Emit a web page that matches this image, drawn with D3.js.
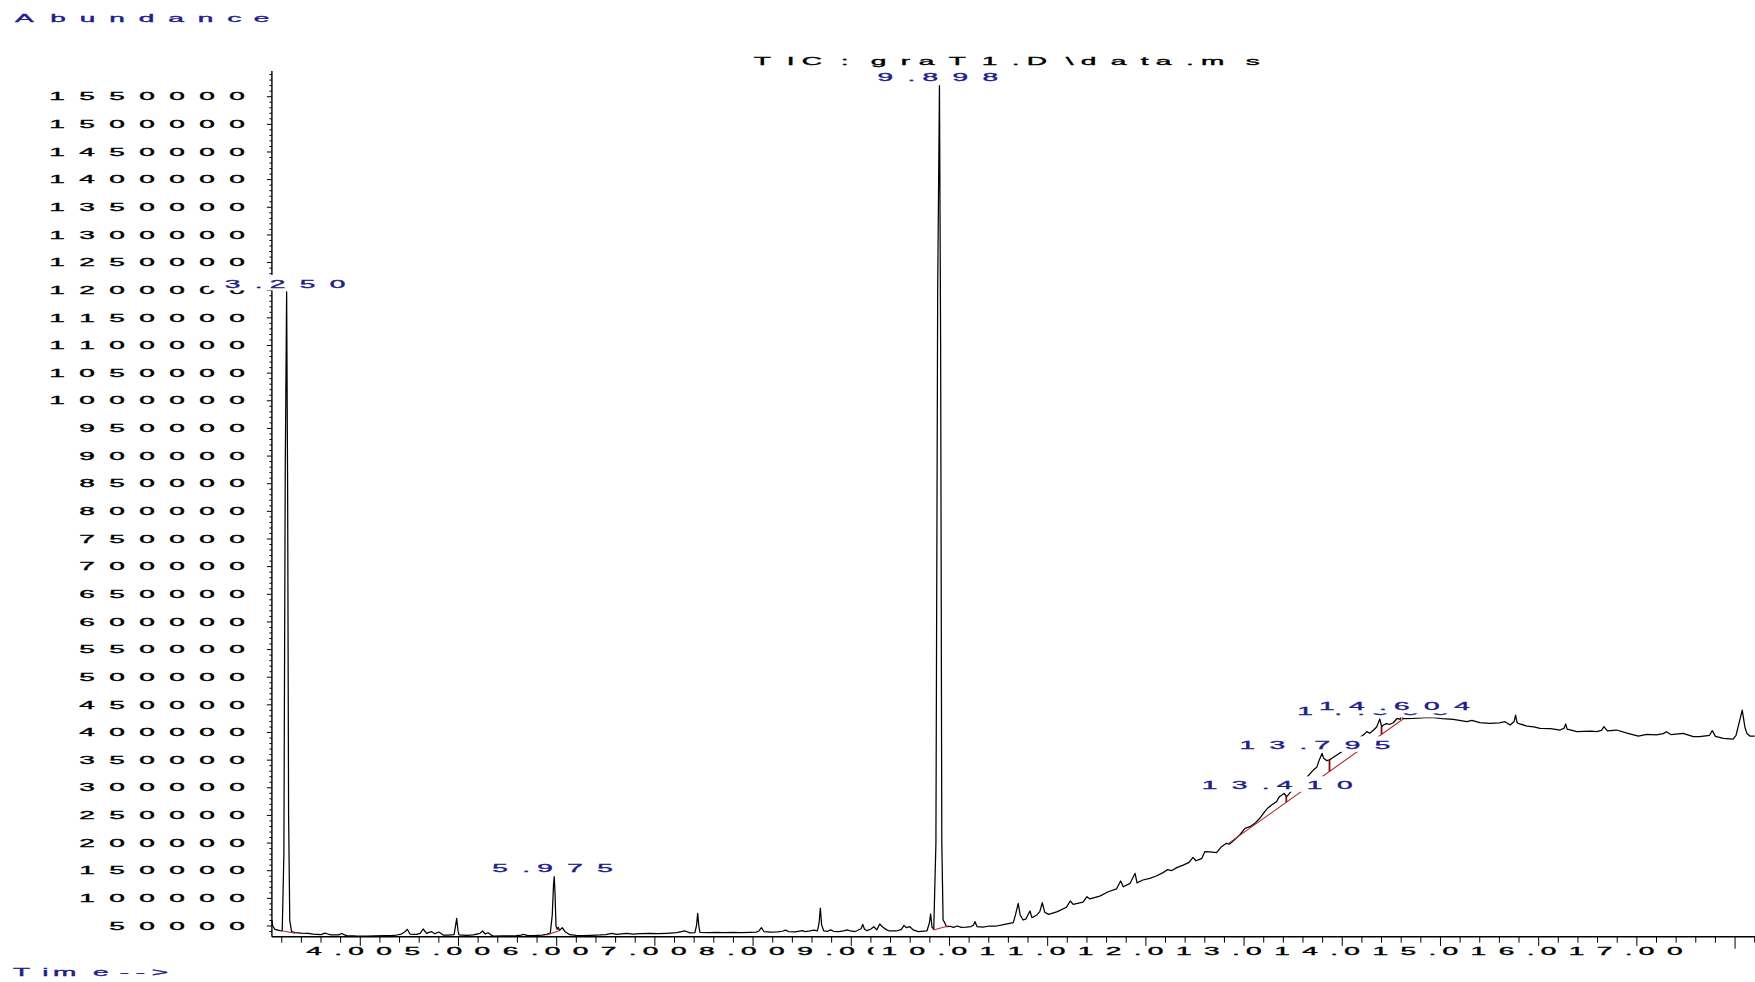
<!DOCTYPE html>
<html>
<head>
<meta charset="utf-8">
<script src="https://cdn.jsdelivr.net/npm/d3@7/dist/d3.min.js"></script>
<style>
  html, body { margin: 0; padding: 0; background: #fff; }
  svg { display: block; font-family: "Liberation Sans", Arial, sans-serif; }
</style>
</head>
<body>
<svg id="chart" width="1755" height="982"></svg>
<script>
// Total ion chromatogram: [retention time (min), abundance]
const ticTrace = [
  [3.100, 61000], [3.108, 50000], [3.131, 44000], [3.182, 41500], [3.205, 41000],
  [3.222, 180000], [3.236, 880000], [3.250, 1197000], [3.260, 850000], [3.270, 250000],
  [3.282, 60000], [3.300, 40000], [3.335, 37900], [3.400, 37000], [3.470, 36700],
  [3.520, 35500], [3.556, 35000], [3.600, 34500], [3.640, 37000], [3.660, 36000],
  [3.700, 33900], [3.780, 34000], [3.810, 36500], [3.840, 34000], [3.860, 32500],
  [3.950, 32000], [4.065, 31900], [4.150, 32200], [4.250, 32800], [4.330, 33200],
  [4.370, 33700], [4.420, 35500], [4.455, 39700], [4.479, 44000], [4.506, 35500],
  [4.574, 35000], [4.610, 36500], [4.640, 44600], [4.676, 36800], [4.700, 38500],
  [4.727, 39700], [4.760, 36000], [4.800, 39100], [4.845, 33700], [4.900, 33500],
  [4.955, 34500], [4.968, 48000], [4.982, 64000], [4.995, 42000], [5.005, 34000],
  [5.083, 33200], [5.150, 34000], [5.219, 36700], [5.246, 41000], [5.273, 35500],
  [5.300, 37900], [5.330, 34000], [5.354, 31900], [5.450, 32200], [5.590, 32500],
  [5.640, 33500], [5.660, 35000], [5.700, 33000], [5.760, 32800], [5.850, 33500],
  [5.898, 35000], [5.935, 37000], [5.955, 70000], [5.968, 125000], [5.975, 139200],
  [5.983, 110000], [5.993, 50000], [6.005, 44000], [6.016, 47600], [6.030, 42000],
  [6.057, 47000], [6.085, 39700], [6.135, 34300], [6.200, 33000], [6.270, 32500],
  [6.350, 33200], [6.440, 33800], [6.500, 34500], [6.560, 36700], [6.610, 35000],
  [6.713, 36700], [6.780, 35500], [6.850, 36000], [6.950, 36700], [7.030, 36000],
  [7.120, 36800], [7.222, 37900], [7.306, 41000], [7.357, 37500], [7.408, 38000],
  [7.425, 52000], [7.436, 72900], [7.448, 50000], [7.459, 38500], [7.550, 38000],
  [7.630, 38600], [7.700, 38000], [7.800, 38600], [7.880, 38200], [7.970, 38600],
  [8.030, 39000], [8.060, 41000], [8.085, 47000], [8.110, 40000], [8.180, 39000],
  [8.250, 39500], [8.300, 40500], [8.330, 42500], [8.360, 40000], [8.430, 39500],
  [8.500, 41500], [8.530, 40000], [8.580, 41000], [8.620, 42500], [8.655, 41000],
  [8.672, 55000], [8.685, 82500], [8.698, 52000], [8.720, 41000], [8.760, 40500],
  [8.790, 43000], [8.820, 40500], [8.870, 40000], [8.920, 41000], [8.960, 43000],
  [8.990, 41000], [9.040, 40000], [9.100, 45000], [9.116, 53000], [9.135, 44000],
  [9.160, 41500], [9.200, 44500], [9.230, 48700], [9.260, 43000], [9.290, 53600],
  [9.320, 48000], [9.360, 43000], [9.390, 41000], [9.460, 41000], [9.510, 44000],
  [9.537, 51200], [9.560, 47000], [9.597, 48700], [9.630, 43000], [9.682, 39700],
  [9.770, 41000], [9.795, 55000], [9.808, 71700], [9.822, 48000], [9.840, 44000],
  [9.862, 200000], [9.880, 1200000], [9.898, 1570000], [9.910, 1100000], [9.922, 200000],
  [9.935, 60800], [9.945, 58000], [9.970, 48700], [10.005, 49500], [10.040, 47500],
  [10.080, 50000], [10.120, 47500], [10.170, 48000], [10.220, 49000], [10.245, 52000],
  [10.260, 57800], [10.280, 49000], [10.340, 48000], [10.410, 50000], [10.480, 50000],
  [10.550, 52500], [10.650, 56000], [10.672, 70000], [10.700, 91000], [10.720, 70000],
  [10.750, 60800], [10.780, 63000], [10.805, 72000], [10.820, 77100], [10.840, 65000],
  [10.890, 70000], [10.920, 76000], [10.945, 92200], [10.970, 75000], [11.010, 71100],
  [11.100, 76000], [11.190, 83800], [11.230, 95200], [11.260, 89000], [11.360, 93000],
  [11.400, 103000], [11.430, 99000], [11.530, 104000], [11.617, 112000], [11.700, 117000],
  [11.743, 131400], [11.770, 121000], [11.840, 127200], [11.890, 145300], [11.910, 128000],
  [11.970, 133200], [12.040, 136300], [12.100, 140000], [12.170, 146000], [12.220, 152000],
  [12.260, 150000], [12.320, 156000], [12.380, 160000], [12.440, 165000], [12.480, 174000],
  [12.510, 168000], [12.540, 170000], [12.570, 172400], [12.600, 184400], [12.650, 184000],
  [12.720, 182600], [12.770, 193400], [12.820, 199600], [12.850, 198000], [12.900, 205500],
  [12.955, 214600], [13.010, 226700], [13.060, 229600], [13.110, 235700], [13.160, 244800],
  [13.210, 256800], [13.245, 264000], [13.280, 268800], [13.330, 274800], [13.360, 283900],
  [13.410, 290000], [13.430, 283900], [13.450, 287000], [13.500, 298000], [13.570, 308000],
  [13.640, 319000], [13.705, 332000], [13.740, 337000], [13.765, 350000], [13.795, 362300],
  [13.810, 353300], [13.845, 349000], [13.870, 350500], [13.910, 355100], [13.960, 361100],
  [14.050, 372000], [14.120, 385000], [14.180, 391300], [14.214, 395500], [14.250, 401500],
  [14.280, 398500], [14.320, 404500], [14.350, 410000], [14.383, 424400], [14.400, 410500],
  [14.420, 413500], [14.450, 416000], [14.480, 414500], [14.520, 417700], [14.560, 425700],
  [14.590, 423800], [14.604, 432000], [14.620, 425000], [14.720, 425600], [14.850, 427000],
  [14.930, 426800], [15.020, 425000], [15.130, 423800], [15.270, 419500], [15.320, 422000],
  [15.400, 417700], [15.500, 416600], [15.600, 417500], [15.657, 419500], [15.710, 413500],
  [15.750, 420000], [15.765, 431600], [15.780, 418000], [15.790, 416600], [15.880, 411700],
  [15.950, 410000], [16.015, 407500], [16.120, 407000], [16.220, 404500], [16.260, 408000],
  [16.275, 415400], [16.290, 406000], [16.390, 401500], [16.530, 402500], [16.590, 401500],
  [16.640, 404000], [16.665, 410500], [16.700, 403000], [16.794, 404500], [16.900, 399000],
  [17.015, 393600], [17.100, 396500], [17.200, 395500], [17.270, 398000], [17.300, 401500],
  [17.350, 396000], [17.470, 398500], [17.575, 392400], [17.640, 392500], [17.740, 395000],
  [17.768, 403300], [17.800, 393000], [17.880, 389500], [17.980, 388200], [18.010, 395000],
  [18.045, 420000], [18.073, 440600], [18.100, 410000], [18.120, 398500], [18.150, 393600],
  [18.200, 393500]
];

// Integrated peaks that carry a retention-time label
const labelledPeaks = [
  { rt: 3.250, abundance: 1197000 },
  { rt: 5.975, abundance: 139200 },
  { rt: 9.898, abundance: 1570000 },
  { rt: 13.410, abundance: 290000 },
  { rt: 13.795, abundance: 362300 },
  { rt: 14.383, abundance: 424400 },
  { rt: 14.604, abundance: 432000 }
];

// Integration baselines: [start time, start abundance, end time, end abundance]
const integrationBaselines = [
  [3.215, 41000, 3.335, 36800],
  [5.898, 33700, 6.030, 42000],
  [9.835, 42700, 9.988, 50000],
  [12.835, 198500, 14.620, 424500]
];

// Peak split (drop) times inside the last baseline
const dropLineTimes = [13.43, 13.87, 14.40];

const abundanceTicks = [50000, 100000, 150000, 200000, 250000, 300000, 350000, 400000,
  450000, 500000, 550000, 600000, 650000, 700000, 750000, 800000, 850000, 900000,
  950000, 1000000, 1050000, 1100000, 1150000, 1200000, 1250000, 1300000, 1350000,
  1400000, 1450000, 1500000, 1550000];
const timeTickLabels = [4, 5, 6, 7, 8, 9, 10, 11, 12, 13, 14, 15, 16, 17];

const titleText = "TIC: graT1.D\\data.ms";
const yAxisTitle = "Abundance";
const xAxisTitle = "Time-->";

// ---------------------------------------------------------------
const W = 1755, H = 982;
const axisLeft = 271.9, axisRight = 1754.7, axisBottom = 936.7, axisTop = 71;
const ink = "#000", navy = "#1e1e8c";

const x = d3.scaleLinear().domain([3.1, 18.2]).range([axisLeft, axisRight]);
const y = d3.scaleLinear().domain([30646, 1596500]).range([axisBottom, axisTop]);

const svg = d3.select("#chart");
svg.append("rect").attr("width", W).attr("height", H).attr("fill", "#fff");

// Plotter-style text: each glyph sits at the left of a wide cell whose width
// is proportional to the glyph's normal advance, and is stretched sideways.
const meter = document.createElement("canvas").getContext("2d");
meter.font = '100px "Liberation Sans", Arial, sans-serif';
const advance = ch => meter.measureText(ch).width / 100;

function plotterText(parent, str, o) {
  const chars = Array.from(str);
  const adv = chars.map(advance);
  const total = d3.sum(adv) * o.cell;
  const xc = o.anchor === "middle" ? o.x - total / 2 : o.anchor === "end" ? o.x - total : o.x;
  const x0 = xc + (o.dx || 0);
  const g = parent.append("g")
    .attr("fill", o.fill).attr("stroke", o.fill).attr("stroke-width", 0.32)
    .attr("font-size", o.size);
  let cx = x0;
  chars.forEach((ch, i) => {
    if (ch !== " ") {
      g.append("text")
        .attr("transform", `translate(${cx},${o.y + o.size * 0.358}) scale(${o.stretch},1)`)
        .text(ch);
    }
    cx += adv[i] * o.cell;
  });
  // slot: the nominal (unshifted) extent used for backing plates
  return { x0, x1: x0 + total, slot0: xc, slot1: xc + total, g };
}

const textStyle = { size: 10.2, stretch: 2.75, cell: 54 };

// ---- y axis ----
const yAxis = svg.append("g");
yAxis.append("line")
  .attr("x1", axisLeft).attr("x2", axisLeft)
  .attr("y1", axisBottom).attr("y2", axisTop)
  .attr("stroke", ink).attr("stroke-width", 1.4);
const minorY = d3.range(40000, y.domain()[1], 10000);
yAxis.selectAll("line.tick").data(minorY).join("line")
  .attr("class", "tick")
  .attr("x1", v => axisLeft - (v % 50000 === 0 ? 5 : 2.5))
  .attr("x2", axisLeft)
  .attr("y1", v => y(v)).attr("y2", v => y(v))
  .attr("stroke", ink).attr("stroke-width", 1);
abundanceTicks.forEach(v => {
  plotterText(yAxis, String(v), { ...textStyle, x: axisLeft - 12.5, y: y(v), anchor: "end", fill: ink });
});

// ---- x axis ----
const xAxis = svg.append("g");
xAxis.append("line")
  .attr("x1", axisLeft).attr("x2", W)
  .attr("y1", axisBottom).attr("y2", axisBottom)
  .attr("stroke", ink).attr("stroke-width", 1.4);
const minorX = d3.range(16, 92).map(i => i / 5);   // every 0.2 min, 3.2 .. 18.2
xAxis.selectAll("line.tick").data(minorX).join("line")
  .attr("class", "tick")
  .attr("x1", t => x(t)).attr("x2", t => x(t))
  .attr("y1", axisBottom)
  .attr("y2", t => axisBottom + (Math.abs(t - Math.round(t)) < 1e-6 ? 12 : 6))
  .attr("stroke", ink).attr("stroke-width", 1);
// time labels: each printed on its own white plate, later labels over earlier ones
timeTickLabels.forEach(t => {
  const grp = xAxis.append("g");
  const plate = grp.append("rect").attr("fill", "#fff");
  const lab = plotterText(grp, t.toFixed(2), { ...textStyle, cell: 50.4, x: x(t), dx: -5, y: 951.4, anchor: "middle", fill: ink });
  plate.attr("x", lab.x0 - 8).attr("y", 951.4 - 5.5)
    .attr("width", lab.x1 - lab.x0 + 8).attr("height", 11.5);
});

// ---- titles ----
plotterText(svg, titleText, { ...textStyle, x: (axisLeft + axisRight) / 2, y: 61.6, anchor: "middle", fill: ink });
plotterText(svg, yAxisTitle, { ...textStyle, cell: 53, x: 15, y: 18.5, anchor: "start", fill: navy });
plotterText(svg, xAxisTitle, { ...textStyle, cell: 48, x: 13, y: 972.6, anchor: "start", fill: navy });

// ---- chromatogram ----
const line = d3.line().x(d => x(d[0])).y(d => y(d[1]));
svg.append("path")
  .datum(ticTrace)
  .attr("d", line)
  .attr("fill", "none")
  .attr("stroke", ink)
  .attr("stroke-width", 1.25)
  .attr("stroke-linejoin", "round");

// ---- integration marks ----
const marks = svg.append("g");
marks.selectAll("line.base").data(integrationBaselines).join("line")
  .attr("class", "base")
  .attr("x1", d => x(d[0])).attr("y1", d => y(d[1]))
  .attr("x2", d => x(d[2])).attr("y2", d => y(d[3]))
  .attr("stroke", "#b02a2a").attr("stroke-width", 1.1);

const bisect = d3.bisector(d => d[0]).left;
function traceAt(t) {
  const i = Math.max(1, bisect(ticTrace, t));
  const a = ticTrace[i - 1], b = ticTrace[i];
  return a[1] + (b[1] - a[1]) * (t - a[0]) / (b[0] - a[0]);
}
const longBase = integrationBaselines[3];
function baseAt(t) {
  return longBase[1] + (longBase[3] - longBase[1]) * (t - longBase[0]) / (longBase[2] - longBase[0]);
}
marks.selectAll("line.drop").data(dropLineTimes).join("line")
  .attr("class", "drop")
  .attr("x1", t => x(t)).attr("x2", t => x(t))
  .attr("y1", t => y(traceAt(t))).attr("y2", t => y(baseAt(t)))
  .attr("stroke", "#8c0a0a").attr("stroke-width", 1.8);

// ---- retention-time labels, each on a white plate ----
// the plate is centred on the peak; shorter labels print a little right of centre
const labels = svg.append("g");
labelledPeaks.forEach(p => {
  const str = p.rt.toFixed(3);
  const cy = y(p.abundance) - 8;
  const grp = labels.append("g");
  const plate = grp.append("rect").attr("fill", "#fff");
  const t = plotterText(grp, str, {
    ...textStyle, x: x(p.rt), dx: (6 - str.length) * 5.6, y: cy, anchor: "middle", fill: navy
  });
  plate.attr("x", t.slot0 - 10).attr("y", cy - 9)
    .attr("width", t.slot1 - t.slot0 + 20).attr("height", 15.5);
});
</script>
</body>
</html>
